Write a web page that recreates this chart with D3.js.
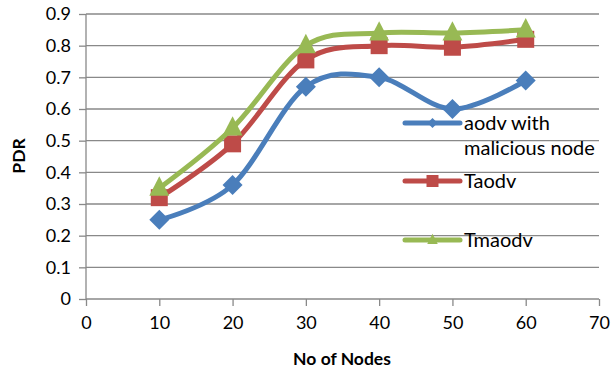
<!DOCTYPE html>
<html>
<head>
<meta charset="utf-8">
<script src="https://cdn.jsdelivr.net/npm/d3@7"></script>
<style>
  body { margin: 0; background: #fff; }
  text { font-family: Lato, "Open Sans", sans-serif; fill: #000; }
</style>
</head>
<body>
<svg id="chart" width="613" height="374"></svg>
<script>
// values
const nodes = [10, 20, 30, 40, 50, 60];
const aodvMalicious = [0.25, 0.36, 0.67, 0.70, 0.60, 0.69];
const taodv = [0.32, 0.49, 0.755, 0.80, 0.795, 0.82];
const tmaodv = [0.35, 0.54, 0.80, 0.84, 0.84, 0.85];
const xTicks = [0, 10, 20, 30, 40, 50, 60, 70];
const yTicks = [0, 0.1, 0.2, 0.3, 0.4, 0.5, 0.6, 0.7, 0.8, 0.9];

const series = [
  {name: ["aodv with", "malicious node"], values: aodvMalicious, color: "#4a7ebb", marker: "diamond"},
  {name: ["Taodv"], values: taodv, color: "#be4b48", marker: "square"},
  {name: ["Tmaodv"], values: tmaodv, color: "#98b954", marker: "triangle"}
];

const svg = d3.select("#chart");
const margin = {top: 14, right: 14, bottom: 75, left: 86};
const width = 599 - margin.left;
const height = 299 - margin.top;
const gridColor = "#898989";

const x = d3.scaleLinear().domain([0, 70]).range([0, width]);
const y = d3.scaleLinear().domain([0, 0.9]).range([height, 0]);

const g = svg.append("g")
    .attr("transform", "translate(" + margin.left + "," + margin.top + ")");

// gridlines
g.append("g").selectAll("line")
  .data(yTicks.slice(1))
  .enter().append("line")
    .attr("x1", 0).attr("x2", width)
    .attr("y1", d => y(d)).attr("y2", d => y(d))
    .style("stroke", gridColor).style("stroke-width", 1.3);

// axes
const xAxis = g.append("g")
    .attr("transform", "translate(0," + height + ")")
    .call(d3.axisBottom(x).tickValues(xTicks).tickSize(7).tickPadding(10).tickSizeOuter(0));
const yAxis = g.append("g")
    .call(d3.axisLeft(y).tickValues(yTicks).tickSize(7).tickPadding(8).tickSizeOuter(0)
      .tickFormat(d => d === 0 ? "0" : d3.format(".1f")(d)));

[xAxis, yAxis].forEach(a => {
  a.selectAll("path, line").style("stroke", gridColor).style("stroke-width", 1.3);
  a.selectAll("text").style("font-size", "18px").style("font-family", "Lato, sans-serif");
  a.select(".domain").remove();
});
g.append("line").attr("x1", 0).attr("x2", width).attr("y1", height).attr("y2", height)
  .style("stroke", gridColor).style("stroke-width", 1.3);
g.append("line").attr("x1", 0).attr("x2", 0).attr("y1", 0).attr("y2", height)
  .style("stroke", gridColor).style("stroke-width", 1.3);

// axis titles
svg.append("text")
    .attr("x", 342).attr("y", 365)
    .attr("text-anchor", "middle")
    .style("font-size", "17.5px").style("font-weight", "bold")
    .text("No of Nodes");
svg.append("text")
    .attr("transform", "translate(25,156) rotate(-90)")
    .attr("text-anchor", "middle")
    .style("font-size", "17.5px").style("font-weight", "bold")
    .text("PDR");

const line = d3.line()
    .curve(d3.curveCardinal.tension(0))
    .x((d, i) => x(nodes[i]))
    .y(d => y(d));

function markerPath(type, s) {
  if (type === "diamond") return "M0," + (-s) + "L" + s + ",0L0," + s + "L" + (-s) + ",0Z";
  if (type === "square") return "M" + (-s) + "," + (-s) + "H" + s + "V" + s + "H" + (-s) + "Z";
  return "M0," + (-s * 1.25) + "L" + (s * 1.05) + "," + (s * 0.8) + "L" + (-s * 1.05) + "," + (s * 0.8) + "Z";
}
const markerSize = {diamond: 10, square: 8.5, triangle: 9.5};
const legendSize = {diamond: 5, square: 6, triangle: 5};

series.forEach(s => {
  const sg = g.append("g");
  sg.append("path")
      .datum(s.values)
      .attr("d", line)
      .style("fill", "none")
      .style("stroke", s.color)
      .style("stroke-width", 5)
      .style("stroke-linejoin", "round");
  sg.selectAll("path.mk")
    .data(s.values)
    .enter().append("path")
      .attr("class", "mk")
      .attr("transform", (d, i) => "translate(" + x(nodes[i]) + "," + y(d) + ")")
      .attr("d", markerPath(s.marker, markerSize[s.marker]))
      .style("fill", s.color);
});

// legend
const legendRows = [123, 181, 240];
series.forEach((s, i) => {
  const lg = svg.append("g").attr("transform", "translate(405," + legendRows[i] + ")");
  lg.append("line").attr("x1", 0).attr("x2", 55)
    .style("stroke", s.color).style("stroke-width", 5).style("stroke-linecap", "round");
  lg.append("path").attr("transform", "translate(27.5,0)")
    .attr("d", markerPath(s.marker, legendSize[s.marker]))
    .style("fill", s.color);
  s.name.forEach((t, j) => {
    lg.append("text")
      .attr("x", 59).attr("y", 7 + j * 25)
      .style("font-size", "20px")
      .text(t);
  });
});
</script>
</body>
</html>
